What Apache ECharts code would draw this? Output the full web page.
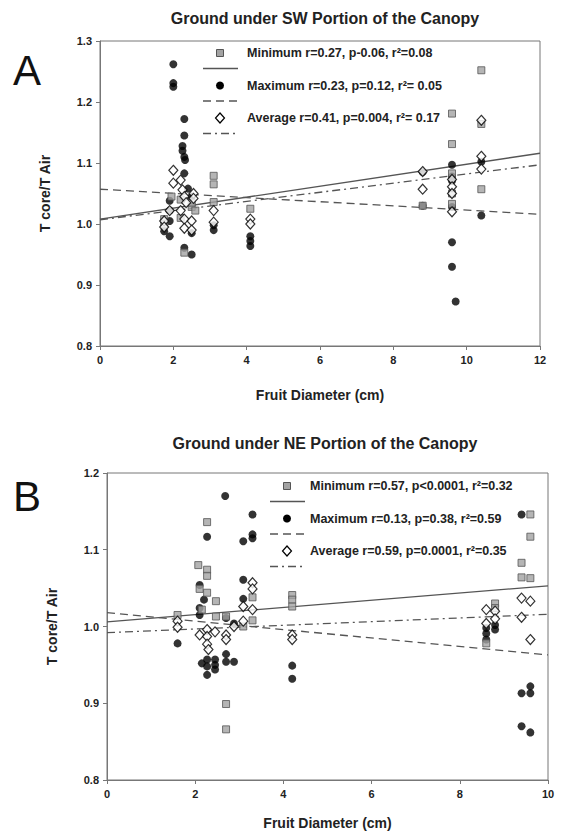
<!DOCTYPE html>
<html><head><meta charset="utf-8">
<script src="https://cdn.jsdelivr.net/npm/echarts@6/dist/echarts.min.js"></script>
<style>html,body{margin:0;padding:0;background:#fff}#c{width:563px;height:836px}</style>
</head><body><div id="c"></div>
<script>
// ---------- Panel A : SW portion ----------
const swTitle = 'Ground under SW Portion of the Canopy';
const swXTicks = [0, 2, 4, 6, 8, 10, 12];
const swYTicks = [0.8, 0.9, 1.0, 1.1, 1.2, 1.3];
const swMin = [[1.75,1.008],[1.75,1.0],[1.95,1.045],[2.2,1.04],[2.2,1.01],[2.5,1.028],[2.5,1.035],[2.3,0.953],[2.6,1.022],
  [3.1,1.079],[3.1,1.065],[3.1,1.036],[4.1,1.025],[8.8,1.03],[9.6,1.181],[9.6,1.131],[9.6,1.083],[9.6,1.05],[9.6,1.033],
  [10.4,1.252],[10.4,1.164],[10.4,1.057]];
const swMax = [[2.0,1.262],[2.0,1.231],[2.0,1.225],[2.3,1.172],[2.3,1.145],[2.25,1.128],[2.25,1.12],[2.3,1.11],[2.32,1.105],[2.3,1.083],
  [1.9,1.038],[1.9,1.022],[1.9,1.005],[1.9,0.98],[1.75,0.988],[2.4,1.058],[2.5,1.045],[2.3,0.961],[2.5,0.95],[2.5,0.985],
  [3.1,0.998],[3.1,0.99],[4.1,0.98],[4.1,0.972],[4.1,0.964],[8.8,1.085],[8.8,1.03],
  [9.6,1.097],[9.6,1.078],[9.6,1.071],[9.6,1.028],[9.6,0.97],[9.6,0.93],[9.7,0.873],[10.4,1.102],[10.4,1.014]];
const swAvg = [[1.75,1.005],[1.75,0.995],[1.9,1.022],[2.0,1.088],[2.0,1.067],[2.2,1.072],[2.25,1.056],[2.3,1.045],[2.2,1.022],
  [2.3,1.008],[2.3,0.993],[2.35,1.035],[2.55,1.05],[2.55,1.042],[2.5,1.005],[2.5,0.99],[3.1,1.022],[3.1,1.003],
  [4.1,1.008],[4.1,1.0],[8.8,1.086],[8.8,1.057],[9.6,1.073],[9.6,1.061],[9.6,1.05],[9.6,1.02],[10.4,1.17],[10.4,1.111],[10.4,1.09]];
const swLineX = [0, 12];
const swMinFit = [1.008, 1.116];
const swMaxFit = [1.057, 1.016];
const swAvgFit = [1.007, 1.097];
const swLegend = ['Minimum r=0.27, p-0.06, r\u00b2=0.08', 'Maximum r=0.23, p=0.12, r\u00b2= 0.05', 'Average r=0.41, p=0.004, r\u00b2= 0.17'];

// ---------- Panel B : NE portion ----------
const neTitle = 'Ground under NE Portion of the Canopy';
const neXTicks = [0, 2, 4, 6, 8, 10];
const neYTicks = [0.8, 0.9, 1.0, 1.1, 1.2];
const neMin = [[1.6,1.015],[2.07,1.08],[2.1,1.049],[2.15,1.022],[2.27,1.136],[2.27,1.074],[2.27,1.066],[2.27,1.044],
  [2.47,1.033],[2.47,1.013],[2.7,1.013],[2.7,0.899],[2.7,0.866],[3.09,1.0],[3.3,1.038],[3.3,1.008],
  [4.2,1.041],[4.2,1.035],[4.2,1.026],[8.6,0.978],[8.8,1.03],[8.8,1.024],[9.4,1.083],[9.4,1.064],[9.6,1.146],[9.6,1.117],[9.6,1.063]];
const neMax = [[1.6,0.978],[2.1,1.054],[2.2,1.035],[2.1,1.024],[2.1,1.015],[2.15,0.952],[2.27,1.117],[2.27,0.957],[2.27,0.948],[2.27,0.937],
  [2.45,0.957],[2.45,0.95],[2.45,0.944],[2.68,1.17],[2.7,1.011],[2.7,0.964],[2.7,0.954],[2.88,1.004],[2.88,0.954],
  [3.09,1.111],[3.09,1.061],[3.09,1.036],[3.3,1.146],[3.3,1.12],[3.3,1.115],[4.2,0.949],[4.2,0.932],
  [8.6,0.998],[8.6,0.991],[8.6,0.983],[8.8,1.002],[8.8,0.996],[9.4,1.146],[9.4,0.913],[9.4,0.87],[9.6,0.922],[9.6,0.913],[9.6,0.862]];
const neAvg = [[1.6,1.007],[1.6,0.999],[2.1,0.989],[2.27,0.996],[2.27,0.987],[2.45,0.993],[2.27,0.977],[2.7,0.989],[2.7,0.983],
  [2.3,0.97],[2.88,1.0],[3.09,1.026],[3.09,1.007],[3.3,1.057],[3.3,1.049],[3.3,1.022],[4.2,0.989],[4.2,0.983],
  [8.6,1.022],[8.6,1.004],[8.8,1.02],[8.8,1.01],[9.4,1.037],[9.4,1.012],[9.6,1.033],[9.6,0.983]];
const neLineX = [0, 10];
const neMinFit = [1.006, 1.053];
const neMaxFit = [1.018, 0.963];
const neAvgFit = [0.992, 1.016];
const neLegend = ['Minimum r=0.57, p<0.0001, r\u00b2=0.32', 'Maximum r=0.13, p=0.38, r\u00b2=0.59', 'Average r=0.59, p=0.0001, r\u00b2=0.35'];

const FONT = '"Liberation Sans", Arial, sans-serif';
const sqStyle = {color:'#a3a3a3', borderColor:'#555', borderWidth:1};
const ciStyle = {color:'#000'};
const diStyle = {color:'#fff', borderColor:'#000', borderWidth:1.2};
const lineCol = '#555';
const dashA = [8,5];
const dashDot = [8,4,2,4];

function xAxis(gi, ticks){
  return {gridIndex:gi, type:'value', min:ticks[0], max:ticks[ticks.length-1], interval:ticks[1]-ticks[0],
    name:'Fruit Diameter (cm)', nameLocation:'middle', nameGap:gi===0?42:36,
    nameTextStyle:{fontFamily:FONT, fontWeight:'bold', fontSize:14, color:'#222'},
    axisLine:{show:true, lineStyle:{color:'#777', width:1}}, axisTick:{show:true, length:4, lineStyle:{color:'#777'}},
    axisLabel:{fontFamily:FONT, fontWeight:'bold', fontSize:11, color:'#222', margin:8}, splitLine:{show:false}};
}
function yAxis(gi, ticks){
  return {gridIndex:gi, type:'value', min:ticks[0], max:ticks[ticks.length-1], interval:0.1,
    name:'T core/T Air', nameLocation:'middle', nameGap:gi===0?48:48, nameRotate:90,
    nameTextStyle:{fontFamily:FONT, fontWeight:'bold', fontSize:14, color:'#222'},
    axisLine:{show:true, lineStyle:{color:'#777', width:1}}, axisTick:{show:true, length:4, lineStyle:{color:'#777'}},
    axisLabel:{fontFamily:FONT, fontWeight:'bold', fontSize:11, color:'#222', margin:8, formatter:v=>v.toFixed(1)}, splitLine:{show:false}};
}
function scatter(gi, data, sym, size, style, z){
  return {type:'scatter', xAxisIndex:gi, yAxisIndex:gi, data:data, symbol:sym, symbolSize:size, itemStyle:style, z:z, silent:true};
}
function fit(gi, xs, ys, type){
  return {type:'line', xAxisIndex:gi, yAxisIndex:gi, data:xs.map((x,i)=>[x, ys[i]]), symbol:'none', z:1,
    lineStyle:{color:lineCol, width:1.3, type:type}, silent:true};
}
function legendGraphics(sx, tx, y0, labels){
  const g = [];
  const gap = 32.5;
  const syms = [
    {type:'rect', shape:{x:-3.5,y:-3.5,width:7,height:7}, style:{fill:'#a3a3a3', stroke:'#555', lineWidth:1}},
    {type:'circle', shape:{cx:0,cy:0,r:4}, style:{fill:'#000'}},
    {type:'polygon', shape:{points:[[0,-5],[4.5,0],[0,5],[-4.5,0]]}, style:{fill:'#fff', stroke:'#000', lineWidth:1.2}}
  ];
  const dashes = [null, dashA, dashDot];
  for (let i=0;i<3;i++){
    const y = y0 + i*gap;
    const s = Object.assign({}, syms[i]); s.x = sx; s.y = y; g.push(s);
    g.push({type:'text', x:tx, y:y, style:{text:labels[i], font:'bold 12.5px '+FONT, fill:'#222', textVerticalAlign:'middle'}});
    g.push({type:'line', shape:{x1:sx-17, y1:y+15.5, x2:sx+18, y2:y+15.5}, style:{stroke:lineCol, lineWidth:1.3, lineDash:dashes[i]}});
  }
  return g;
}

const chart = echarts.init(document.getElementById('c'), null, {renderer:'svg'});
chart.setOption({
  backgroundColor:'#fff',
  animation:false,
  title:[
    {text:swTitle, left:320, top:5, textAlign:'center', textStyle:{fontFamily:FONT, fontWeight:'bold', fontSize:16, color:'#222'}},
    {text:neTitle, left:320, top:430, textAlign:'center', textStyle:{fontFamily:FONT, fontWeight:'bold', fontSize:16, color:'#222'}},
    {text:'A', left:8, top:44, textStyle:{fontFamily:FONT, fontWeight:'normal', fontSize:42, color:'#111'}},
    {text:'B', left:8, top:470, textStyle:{fontFamily:FONT, fontWeight:'normal', fontSize:42, color:'#111'}}
  ],
  grid:[
    {left:100, top:41, width:440, height:305, show:true, borderColor:'#777', borderWidth:1, backgroundColor:'transparent'},
    {left:107, top:473, width:441, height:307, show:true, borderColor:'#777', borderWidth:1, backgroundColor:'transparent'}
  ],
  xAxis:[xAxis(0, swXTicks), xAxis(1, neXTicks)],
  yAxis:[yAxis(0, swYTicks), yAxis(1, neYTicks)],
  graphic:[].concat(legendGraphics(220, 247, 53, swLegend), legendGraphics(287, 310, 486, neLegend)),
  series:[
    fit(0, swLineX, swMinFit, 'solid'), fit(0, swLineX, swMaxFit, dashA), fit(0, swLineX, swAvgFit, dashDot),
    scatter(0, swMax, 'circle', 8, ciStyle, 3), scatter(0, swMin, 'rect', 7, sqStyle, 4), scatter(0, swAvg, 'diamond', [9,10], diStyle, 5),
    fit(1, neLineX, neMinFit, 'solid'), fit(1, neLineX, neMaxFit, dashA), fit(1, neLineX, neAvgFit, dashDot),
    scatter(1, neMax, 'circle', 8, ciStyle, 3), scatter(1, neMin, 'rect', 7, sqStyle, 4), scatter(1, neAvg, 'diamond', [9,10], diStyle, 5)
  ]
});
</script>
</body></html>
